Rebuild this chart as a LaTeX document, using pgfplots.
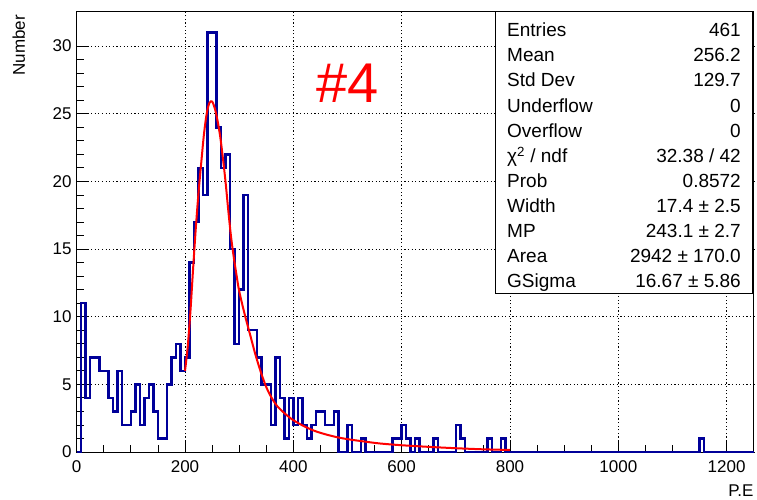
\documentclass[border=0pt]{standalone}
\usepackage{pgfplots}
\pgfplotsset{compat=1.18}
\usepackage{fontspec}
\setmainfont{Liberation Sans}
\definecolor{histblue}{RGB}{0,0,153}
\definecolor{fitred}{RGB}{255,0,0}
\begin{document}
\begin{tikzpicture}[x=1pt,y=1pt]
\path[use as bounding box] (0,0) rectangle (757,499);
\begin{axis}[
  at={(76.7pt,47pt)}, anchor=south west,
  width=677pt, height=440.4pt, scale only axis,
  xmin=0, xmax=1250, ymin=0, ymax=32.55,
  xtick={0,200,...,1200}, ytick={0,5,...,30},
  minor x tick num=3, minor y tick num=4,
  xtick pos=left, ytick pos=left, tick align=inside,
  major tick length=12pt, minor tick length=7pt,
  tick style={black, line width=0.8pt},
  axis line style={black, line width=0.8pt},
  grid=major,
  major grid style={black, line width=0.7pt, dash pattern=on 1.2pt off 2.4pt},
  /pgf/number format/assume math mode=true,
  /pgf/number format/1000 sep={},
  tick label style={font=\fontsize{17}{20}\selectfont},
  xticklabel style={inner sep=0pt, yshift=-8pt},
  yticklabel style={inner sep=0pt, xshift=-5pt},
  xlabel={P.E}, ylabel={Number},
  every axis x label/.style={at={(rel axis cs:1,0)}, anchor=north east, yshift=-33pt, inner sep=0pt, font=\fontsize{17}{20}\selectfont},
  every axis y label/.style={at={(rel axis cs:0,1)}, xshift=-51.7pt, yshift=-3.4pt, rotate=90, anchor=base east, inner sep=0pt, font=\fontsize{17}{20}\selectfont},
  clip=false,
]
\addplot[const plot, histblue, line width=2.5pt, line join=miter] coordinates {
(0,0) (8.333,11) (16.667,4) (25,7) (33.333,7) (41.667,6) (50,6) (58.333,4)
(66.667,3) (75,6) (83.333,2) (91.667,2) (100,3) (108.333,5) (116.667,2)
(125,4) (133.333,5) (141.667,3) (150,1) (158.333,1) (166.667,5) (175,7)
(183.333,8) (191.667,6) (200,7) (208.333,14) (216.667,17) (225,21)
(233.333,19) (241.667,31) (250,31) (258.333,24) (266.667,21) (275,22)
(283.333,15) (291.667,8) (300,12) (308.333,19) (316.667,9) (325,9)
(333.333,7) (341.667,5) (350,5) (358.333,2) (366.667,7) (375,4)
(383.333,1) (391.667,4) (400,2) (408.333,4) (416.667,2) (425,1)
(433.333,2) (441.667,3) (450,3) (458.333,2) (466.667,2) (475,3)
(483.333,0) (491.667,0) (500,2) (508.333,0) (516.667,0) (525,1)
(533.333,0) (575,0) (583.333,1) (591.667,1) (600,2) (608.333,1)
(616.667,0) (625,1) (633.333,0) (658.333,1) (666.667,0) (700,2)
(708.333,1) (716.667,0) (758.333,1) (766.667,0) (783.333,1) (791.667,0)
(1150,1) (1158.333,0) (1250,0)
};
\addplot[fitred, line width=2pt, smooth, tension=0.5] coordinates {
(200,6.0) (205,7.8) (210,10.4) (215,13.6) (220,16.6) (225,19.2) (230,21.4)
(235,23.5) (240,25.0) (245,25.8) (250,25.9) (255,25.4) (260,24.5) (265,23.3)
(270,21.7) (275,19.9) (280,17.8) (285,15.9) (290,14.4) (295,13.1) (300,11.9)
(310,10.2) (320,8.7) (330,7.2) (340,5.9) (350,4.8) (360,4.0) (370,3.4)
(380,3.0) (390,2.65) (400,2.35) (420,1.9) (440,1.55) (460,1.3) (480,1.1)
(500,0.95) (530,0.78) (560,0.63) (600,0.5) (650,0.38) (700,0.28) (750,0.2)
(800,0.15)
};
\end{axis}
% "#4" label
\node[anchor=base west, inner sep=0pt, text=fitred, font=\fontsize{56}{60}\selectfont] at (316,396) {\#4};
% stats box
\draw[black, line width=1pt, fill=white] (495,206) rectangle (752,487);
\begin{scope}[every node/.style={inner sep=0pt, font=\fontsize{19}{22}\selectfont}]
\node[anchor=base west] at (507,462.2) {Entries};
\node[anchor=base east] at (741,462.2) {461};
\node[anchor=base west] at (507,437.1) {Mean};
\node[anchor=base east] at (741,437.1) {256.2};
\node[anchor=base west] at (507,412.0) {Std Dev};
\node[anchor=base east] at (741,412.0) {129.7};
\node[anchor=base west] at (507,386.9) {Underflow};
\node[anchor=base east] at (741,386.9) {0};
\node[anchor=base west] at (507,361.8) {Overflow};
\node[anchor=base east] at (741,361.8) {0};
\node[anchor=base west] at (507,336.7) {χ\textsuperscript{2} / ndf};
\node[anchor=base east] at (741,336.7) {32.38 / 42};
\node[anchor=base west] at (507,311.6) {Prob};
\node[anchor=base east] at (741,311.6) {0.8572};
\node[anchor=base west] at (507,286.5) {Width};
\node[anchor=base east] at (741,286.5) {17.4 ± 2.5};
\node[anchor=base west] at (507,261.4) {MP};
\node[anchor=base east] at (741,261.4) {243.1 ± 2.7};
\node[anchor=base west] at (507,236.3) {Area};
\node[anchor=base east] at (741,236.3) {2942 ± 170.0};
\node[anchor=base west] at (507,211.2) {GSigma};
\node[anchor=base east] at (741,211.2) {16.67 ± 5.86};
\end{scope}
\end{tikzpicture}
\end{document}
